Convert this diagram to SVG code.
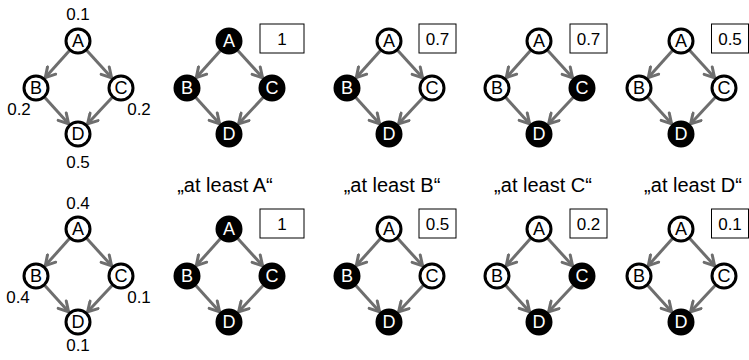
<svg xmlns="http://www.w3.org/2000/svg" width="749" height="360" viewBox="0 0 749 360">
<style>
text{font-family:"Liberation Sans",Arial,sans-serif;}
.w circle{fill:#fff;stroke:#000;stroke-width:3;}
.b circle{fill:#000;stroke:#000;stroke-width:3;}
.w text{fill:#000;font-size:18px;text-anchor:middle;}
.b text{fill:#fff;font-size:18px;text-anchor:middle;}
.num{font-size:17px;fill:#000;text-anchor:middle;}
.box rect{fill:#fff;stroke:#000;stroke-width:1;}
.box text{font-size:17px;fill:#000;text-anchor:middle;}
.cap{font-size:20px;fill:#000;text-anchor:middle;}
.conn line{stroke:#6e6e6e;stroke-width:3;marker-end:url(#ah);}
</style>
<defs>
<marker id="ah" viewBox="0 0 14 14" refX="12" refY="7" markerWidth="14" markerHeight="14" markerUnits="userSpaceOnUse" orient="auto">
<path d="M2.5,1.5 L12,7 L2.5,12.5" fill="none" stroke="#6e6e6e" stroke-width="3" stroke-linecap="round" stroke-linejoin="round"/>
</marker>
</defs>
<rect width="749" height="360" fill="#fff"/>
<g id="connectors" class="conn">
<line x1="69.3" y1="50.7" x2="45.3" y2="77.6"/><line x1="86.8" y1="50.6" x2="111.6" y2="77.7"/><line x1="44.8" y1="97.6" x2="68.6" y2="123.7"/><line x1="112.1" y1="97.5" x2="87.6" y2="123.8"/>
<line x1="220.3" y1="50.7" x2="196.3" y2="77.6"/><line x1="237.8" y1="50.6" x2="262.6" y2="77.7"/><line x1="195.8" y1="97.6" x2="219.6" y2="123.7"/><line x1="263.1" y1="97.5" x2="238.6" y2="123.8"/>
<line x1="380.3" y1="50.7" x2="356.3" y2="77.6"/><line x1="397.8" y1="50.6" x2="422.6" y2="77.7"/><line x1="355.8" y1="97.6" x2="379.6" y2="123.7"/><line x1="423.1" y1="97.5" x2="398.6" y2="123.8"/>
<line x1="530.3" y1="50.7" x2="506.3" y2="77.6"/><line x1="547.8" y1="50.6" x2="572.6" y2="77.7"/><line x1="505.8" y1="97.6" x2="529.6" y2="123.7"/><line x1="573.1" y1="97.5" x2="548.6" y2="123.8"/>
<line x1="672.3" y1="50.7" x2="648.3" y2="77.6"/><line x1="689.8" y1="50.6" x2="714.6" y2="77.7"/><line x1="647.8" y1="97.6" x2="671.6" y2="123.7"/><line x1="715.1" y1="97.5" x2="690.6" y2="123.8"/>
<line x1="69.3" y1="238.7" x2="45.3" y2="265.6"/><line x1="86.8" y1="238.6" x2="111.6" y2="265.7"/><line x1="44.8" y1="285.6" x2="68.6" y2="311.7"/><line x1="112.1" y1="285.5" x2="87.6" y2="311.8"/>
<line x1="220.3" y1="238.7" x2="196.3" y2="265.6"/><line x1="237.8" y1="238.6" x2="262.6" y2="265.7"/><line x1="195.8" y1="285.6" x2="219.6" y2="311.7"/><line x1="263.1" y1="285.5" x2="238.6" y2="311.8"/>
<line x1="380.3" y1="238.7" x2="356.3" y2="265.6"/><line x1="397.8" y1="238.6" x2="422.6" y2="265.7"/><line x1="355.8" y1="285.6" x2="379.6" y2="311.7"/><line x1="423.1" y1="285.5" x2="398.6" y2="311.8"/>
<line x1="530.3" y1="238.7" x2="506.3" y2="265.6"/><line x1="547.8" y1="238.6" x2="572.6" y2="265.7"/><line x1="505.8" y1="285.6" x2="529.6" y2="311.7"/><line x1="573.1" y1="285.5" x2="548.6" y2="311.8"/>
<line x1="672.3" y1="238.7" x2="648.3" y2="265.6"/><line x1="689.8" y1="238.6" x2="714.6" y2="265.7"/><line x1="647.8" y1="285.6" x2="671.6" y2="311.7"/><line x1="715.1" y1="285.5" x2="690.6" y2="311.8"/>
</g>
<!-- top row panel 1 -->
<g id="t1A" class="w"><circle cx="78" cy="41" r="12"/><text x="78" y="47.4">A</text></g>
<g id="t1B" class="w"><circle cx="36" cy="88" r="12"/><text x="36" y="94.4">B</text></g>
<g id="t1C" class="w"><circle cx="121" cy="88" r="12"/><text x="121" y="94.4">C</text></g>
<g id="t1D" class="w"><circle cx="78" cy="134" r="12"/><text x="78" y="140.4">D</text></g>
<!-- top row panel 2 -->
<g id="t2A" class="b"><circle cx="229" cy="41" r="12"/><text x="229" y="47.4">A</text></g>
<g id="t2B" class="b"><circle cx="187" cy="88" r="12"/><text x="187" y="94.4">B</text></g>
<g id="t2C" class="b"><circle cx="272" cy="88" r="12"/><text x="272" y="94.4">C</text></g>
<g id="t2D" class="b"><circle cx="229" cy="134" r="12"/><text x="229" y="140.4">D</text></g>
<!-- top row panel 3 -->
<g id="t3A" class="w"><circle cx="389" cy="41" r="12"/><text x="389" y="47.4">A</text></g>
<g id="t3B" class="b"><circle cx="347" cy="88" r="12"/><text x="347" y="94.4">B</text></g>
<g id="t3C" class="w"><circle cx="432" cy="88" r="12"/><text x="432" y="94.4">C</text></g>
<g id="t3D" class="b"><circle cx="389" cy="134" r="12"/><text x="389" y="140.4">D</text></g>
<!-- top row panel 4 -->
<g id="t4A" class="w"><circle cx="539" cy="41" r="12"/><text x="539" y="47.4">A</text></g>
<g id="t4B" class="w"><circle cx="497" cy="88" r="12"/><text x="497" y="94.4">B</text></g>
<g id="t4C" class="b"><circle cx="582" cy="88" r="12"/><text x="582" y="94.4">C</text></g>
<g id="t4D" class="b"><circle cx="539" cy="134" r="12"/><text x="539" y="140.4">D</text></g>
<!-- top row panel 5 -->
<g id="t5A" class="w"><circle cx="681" cy="41" r="12"/><text x="681" y="47.4">A</text></g>
<g id="t5B" class="w"><circle cx="639" cy="88" r="12"/><text x="639" y="94.4">B</text></g>
<g id="t5C" class="w"><circle cx="724" cy="88" r="12"/><text x="724" y="94.4">C</text></g>
<g id="t5D" class="b"><circle cx="681" cy="134" r="12"/><text x="681" y="140.4">D</text></g>
<!-- bottom row panel 1 -->
<g id="b1A" class="w"><circle cx="78" cy="229" r="12"/><text x="78" y="235.4">A</text></g>
<g id="b1B" class="w"><circle cx="36" cy="276" r="12"/><text x="36" y="282.4">B</text></g>
<g id="b1C" class="w"><circle cx="121" cy="276" r="12"/><text x="121" y="282.4">C</text></g>
<g id="b1D" class="w"><circle cx="78" cy="322" r="12"/><text x="78" y="328.4">D</text></g>
<!-- bottom row panel 2 -->
<g id="b2A" class="b"><circle cx="229" cy="229" r="12"/><text x="229" y="235.4">A</text></g>
<g id="b2B" class="b"><circle cx="187" cy="276" r="12"/><text x="187" y="282.4">B</text></g>
<g id="b2C" class="b"><circle cx="272" cy="276" r="12"/><text x="272" y="282.4">C</text></g>
<g id="b2D" class="b"><circle cx="229" cy="322" r="12"/><text x="229" y="328.4">D</text></g>
<!-- bottom row panel 3 -->
<g id="b3A" class="w"><circle cx="389" cy="229" r="12"/><text x="389" y="235.4">A</text></g>
<g id="b3B" class="b"><circle cx="347" cy="276" r="12"/><text x="347" y="282.4">B</text></g>
<g id="b3C" class="w"><circle cx="432" cy="276" r="12"/><text x="432" y="282.4">C</text></g>
<g id="b3D" class="b"><circle cx="389" cy="322" r="12"/><text x="389" y="328.4">D</text></g>
<!-- bottom row panel 4 -->
<g id="b4A" class="w"><circle cx="539" cy="229" r="12"/><text x="539" y="235.4">A</text></g>
<g id="b4B" class="w"><circle cx="497" cy="276" r="12"/><text x="497" y="282.4">B</text></g>
<g id="b4C" class="b"><circle cx="582" cy="276" r="12"/><text x="582" y="282.4">C</text></g>
<g id="b4D" class="b"><circle cx="539" cy="322" r="12"/><text x="539" y="328.4">D</text></g>
<!-- bottom row panel 5 -->
<g id="b5A" class="w"><circle cx="681" cy="229" r="12"/><text x="681" y="235.4">A</text></g>
<g id="b5B" class="w"><circle cx="639" cy="276" r="12"/><text x="639" y="282.4">B</text></g>
<g id="b5C" class="w"><circle cx="724" cy="276" r="12"/><text x="724" y="282.4">C</text></g>
<g id="b5D" class="b"><circle cx="681" cy="322" r="12"/><text x="681" y="328.4">D</text></g>
<!-- probability labels -->
<g id="labels">
<text class="num" x="78" y="20">0.1</text>
<text class="num" x="19" y="115">0.2</text>
<text class="num" x="139" y="115">0.2</text>
<text class="num" x="78" y="168">0.5</text>
<text class="num" x="78" y="209">0.4</text>
<text class="num" x="18" y="303">0.4</text>
<text class="num" x="139" y="303">0.1</text>
<text class="num" x="78" y="351">0.1</text>
</g>
<g id="boxes" class="box">
<rect x="260" y="24" width="44" height="29"/><text x="282" y="44.5">1</text>
<rect x="419" y="24" width="37" height="29"/><text x="437.5" y="44.5">0.7</text>
<rect x="570" y="24" width="37" height="29"/><text x="588.5" y="44.5">0.7</text>
<rect x="711.5" y="24" width="37" height="29"/><text x="730" y="44.5">0.5</text>
<rect x="260" y="209" width="44" height="29"/><text x="282" y="229.5">1</text>
<rect x="419" y="209" width="37" height="29"/><text x="437.5" y="229.5">0.5</text>
<rect x="570" y="209" width="37" height="29"/><text x="588.5" y="229.5">0.2</text>
<rect x="711.5" y="209" width="37" height="29"/><text x="730" y="229.5">0.1</text>
</g>
<g id="captions">
<text class="cap" x="225" y="192">„at least A“</text>
<text class="cap" x="392" y="192">„at least B“</text>
<text class="cap" x="543" y="192">„at least C“</text>
<text class="cap" x="693" y="192">„at least D“</text>
</g>
</svg>
